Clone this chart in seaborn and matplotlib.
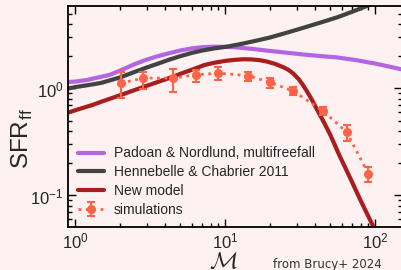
import numpy as np
import pandas as pd
import matplotlib
matplotlib.use("Agg")
import matplotlib.pyplot as plt
import seaborn as sns

# Padoan & Nordlund, multifreefall
pn_mach = [0.9, 1.0, 1.2, 1.4, 1.7, 2.0, 2.5, 3.0, 3.5, 4.2, 5.0, 6.0, 7.0, 8.5, 10, 12, 15,
           19, 25, 33, 43, 56, 75, 100, 125, 150]
pn_sfr = [1.15, 1.16, 1.20, 1.26, 1.34, 1.47, 1.69, 1.86, 1.99, 2.13, 2.26, 2.37, 2.43, 2.46,
          2.45, 2.42, 2.35, 2.26, 2.17, 2.08, 2.01, 1.95, 1.84, 1.71, 1.60, 1.51]

# Hennebelle & Chabrier 2011
hc_mach = [0.9, 1.0, 1.3, 1.5, 2.0, 2.5, 3.0, 3.5, 4.2, 5.0, 6.0, 7.0, 8.5, 10.3, 13, 16, 20,
           25, 33, 43, 56, 70, 88, 110]
hc_sfr = [1.00, 1.03, 1.09, 1.13, 1.27, 1.43, 1.57, 1.69, 1.85, 2.00, 2.15, 2.26, 2.37, 2.46,
          2.62, 2.79, 3.00, 3.28, 3.68, 4.12, 4.63, 5.20, 5.90, 6.70]

# New model
nm_mach = [0.9, 1.0, 1.3, 1.5, 2.0, 2.5, 3.0, 3.5, 4.2, 5.0, 6.0, 7.3, 8.5, 10, 11.5, 13.2,
           15, 17, 19, 21.5, 24.5, 26.5, 28.5, 31, 33, 35, 38, 41, 45, 50, 58, 68, 80, 97.4, 110]
nm_sfr = [0.596, 0.625, 0.70, 0.753, 0.865, 0.968, 1.058, 1.141, 1.245, 1.366, 1.497, 1.658,
          1.741, 1.81, 1.85, 1.875, 1.87, 1.84, 1.785, 1.70, 1.578, 1.49, 1.38, 1.22, 1.08,
          0.95, 0.78, 0.635, 0.50, 0.375, 0.235, 0.147, 0.09, 0.0511, 0.036]

# simulations
sim_mach = [2.02, 2.83, 4.52, 6.38, 9.0, 14.2, 20.0, 28.3, 44.8, 64.7, 90.2]
sim_sfr = [1.12, 1.25, 1.25, 1.34, 1.39, 1.32, 1.14, 0.95, 0.62, 0.39, 0.159]
sim_lo = [0.81, 0.98, 0.93, 1.16, 1.20, 1.18, 1.00, 0.87, 0.565, 0.325, 0.135]
sim_hi = [1.44, 1.44, 1.51, 1.49, 1.58, 1.44, 1.26, 1.03, 0.675, 0.456, 0.186]

bg = "#fdf1f1"
sns.set_style("ticks")
plt.rcParams["font.family"] = ["Liberation Sans", "DejaVu Sans"]
plt.rcParams["mathtext.fontset"] = "cm"
plt.rcParams["figure.facecolor"] = bg
plt.rcParams["axes.facecolor"] = bg

fig = plt.figure(figsize=(4.01, 2.70), dpi=100)
ax = fig.add_axes([0.1703, 0.1604, 0.8310, 0.8185])

pn = pd.DataFrame({"M": pn_mach, "sfr": pn_sfr})
hc = pd.DataFrame({"M": hc_mach, "sfr": hc_sfr})
nm = pd.DataFrame({"M": nm_mach, "sfr": nm_sfr})

sns.lineplot(data=pn, x="M", y="sfr", ax=ax, color="#b466e0", lw=3,
             label="Padoan & Nordlund, multifreefall")
sns.lineplot(data=hc, x="M", y="sfr", ax=ax, color="#424242", lw=3,
             label="Hennebelle & Chabrier 2011")
sns.lineplot(data=nm, x="M", y="sfr", ax=ax, color="#a81d1d", lw=3,
             label="New model")

sim_sfr_a = np.array(sim_sfr)
yerr = [sim_sfr_a - np.array(sim_lo), np.array(sim_hi) - sim_sfr_a]
ax.errorbar(sim_mach, sim_sfr, yerr=yerr, fmt="o", ls=":", lw=2,
            color="#ff6347", ms=5.5, capsize=3, elinewidth=1.5, capthick=1.5,
            label="simulations", zorder=5)

ax.set_xscale("log")
ax.set_yscale("log")
ax.set_xlim(0.902, 150)
ax.set_ylim(0.0511, 5.94)

ax.tick_params(which="both", direction="in", top=True, right=True, labelsize=12, color="black")
ax.tick_params(which="major", length=6, width=1)
ax.tick_params(which="minor", length=3, width=1)
for s in ax.spines.values():
    s.set_color("black")
    s.set_linewidth(1.3)

ax.set_xlabel(r"$\mathcal{M}$", fontsize=17, va="baseline")
ax.set_ylabel(r"SFR$_\mathdefault{ff}$", fontsize=17.5)
ax.xaxis.set_label_coords(0.465, -0.186)
ax.yaxis.set_label_coords(-0.10, 0.40)

ax.legend(loc="lower left", bbox_to_anchor=(0.0, 0.0), frameon=False, fontsize=10,
          handlelength=1.9, handletextpad=0.7, labelspacing=0.35, borderaxespad=0.3)

fig.text(0.68, 0.008, "from Brucy+ 2024", fontsize=8.5, color="#333333",
         family="DejaVu Sans")

fig.savefig("out.png", dpi=100, facecolor=bg)
